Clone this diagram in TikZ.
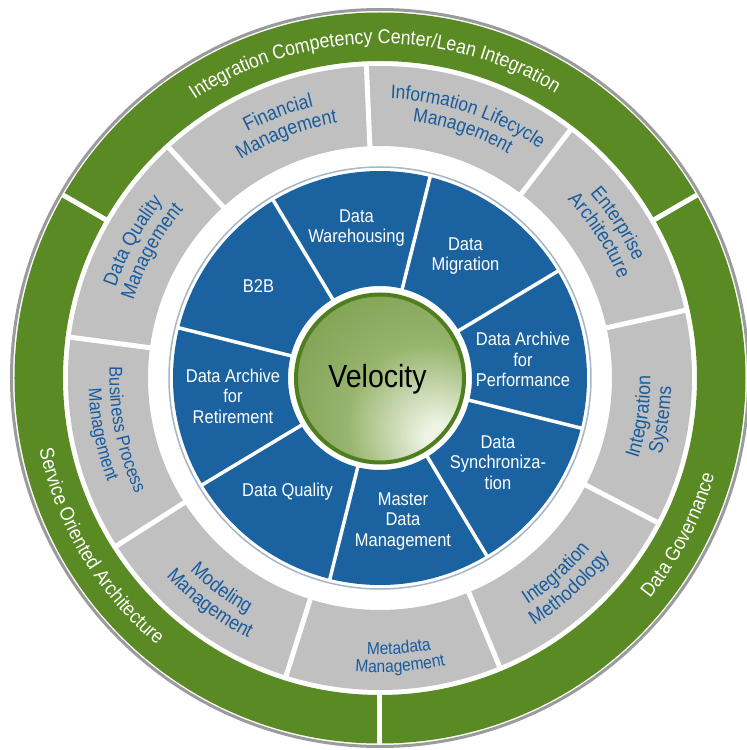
\documentclass[tikz,border=0pt]{standalone}
\usepackage{fontspec}
\setmainfont{Liberation Sans}
\newfontfamily\cfont{Liberation Sans}[FakeStretch=0.89]
\usetikzlibrary{decorations.text}
\definecolor{segblue}{RGB}{27,99,160}
\definecolor{seggray}{RGB}{192,192,192}
\definecolor{seggreen}{RGB}{90,138,35}
\definecolor{gtxt}{RGB}{24,92,158}
\definecolor{bline}{RGB}{165,182,200}
\definecolor{oline}{RGB}{155,155,155}
\definecolor{ballborder}{RGB}{78,126,30}
\definecolor{vhl}{RGB}{238,243,228}
\definecolor{vmid}{RGB}{150,180,108}
\definecolor{vout}{RGB}{118,152,72}
\pgfdeclareradialshading{velball}{\pgfpoint{18bp}{-18bp}}{color(0bp)=(vhl); color(4bp)=(vhl); color(24bp)=(vmid); color(52bp)=(vout); color(100bp)=(vout)}
\newcommand\bluefont{\cfont\fontsize{18.5}{20.5}\selectfont}
\newcommand\velfont{\cfont\fontsize{32}{36}\selectfont}
\newcommand\gfa{\cfont\fontsize{20}{22}\selectfont}
\newcommand\gfb{\cfont\fontsize{19.5}{22}\selectfont}
\newcommand\gfc{\cfont\fontsize{18.5}{22}\selectfont}
\newcommand\gfd{\cfont\fontsize{17.5}{20}\selectfont}
\newcommand\grf{\cfont\fontsize{20}{24}\selectfont}
% text along an arc: centre angle, radius, half span, colour, text
\newcommand\cwlabel[5]{%
  \path[decorate,decoration={text along path,text align=center,text color=#4,text={#5}}]
    (#1+#3:#2) arc[start angle={#1+#3}, end angle={#1-#3}, radius=#2];}
\newcommand\ccwlabel[5]{%
  \path[decorate,decoration={text along path,text align=center,text color=#4,text={#5}}]
    (#1-#3:#2) arc[start angle={#1-#3}, end angle={#1+#3}, radius=#2];}
\tikzset{
  bluetext/.style={text=white, font=\bluefont, align=center, inner sep=0pt},
  divider/.style={white, line width=#1},
}
\begin{document}
\begin{tikzpicture}[x=1pt,y=1pt]
\useasboundingbox (-380,-372) rectangle (367,378);
\fill[white] (-380,-372) rectangle (367,378);
% outer green ring
\fill[seggreen,even odd rule] (0,0) circle[radius=365.5] (0,0) circle[radius=317];
\foreach \a in {30,150,270} \draw[divider=5] (\a:314) -- (\a:366);
\draw[oline,line width=3] (0,0) circle[radius=368.5];
% grey ring
\fill[seggray,even odd rule] (0,0) circle[radius=312] (0,0) circle[radius=232];
\foreach \a in {12.5,52.5,92.5,132.5,172.5,212.5,252.5,292.5,332.5}
  \draw[divider=5] (\a:228) -- (\a:315);
% blue ring
\fill[segblue,even odd rule] (0,0) circle[radius=207] (0,0) circle[radius=92];
\foreach \a in {31,76,121,166,211,256,301,346}
  \draw[divider=3.5] (\a:88) -- (\a:208);
\draw[bline,line width=1.5] (0,0) circle[radius=211];
% centre ball
\shade[shading=velball] (0,-0.5) circle[radius=85];
\draw[ballborder,line width=4] (0,-0.5) circle[radius=84];
\node[font=\velfont, anchor=base, text=black, inner sep=0pt] (vel) at (-2.5,-9) {Velocity};
% blue segment labels
\node[bluetext] (dw)  at (-23.5,150)   {Data\\Warehousing};
\node[bluetext] (dm)  at (85.5,122)    {Data\\Migration};
\node[bluetext] (b2b) at (-121.5,91.5) {B2B};
\node[bluetext] (dap) at (143,18.5)    {Data Archive\\for\\Performance};
\node[bluetext] (ds)  at (118,-84.5)   {Data\\Synchroniza-\\tion};
\node[bluetext] (mdm) at (23,-143.5)   {Master\\Data\\Management};
\node[bluetext] (dq)  at (-92.5,-113.5){Data Quality};
\node[bluetext] (dar) at (-147,-18)    {Data Archive\\for\\Retirement};
% grey segment labels
\cwlabel{111}{279.5}{19}{gtxt}{|\gfa|Financial}
\cwlabel{111}{258.5}{19}{gtxt}{|\gfa|Management}
\cwlabel{71.5}{279.5}{19}{gtxt}{|\gfb|Information Lifecycle}
\cwlabel{71.5}{258.5}{19}{gtxt}{|\gfb|Management}
\cwlabel{33}{279.5}{19}{gtxt}{|\gfa|Enterprise}
\cwlabel{33}{258.5}{19}{gtxt}{|\gfa|Architecture}
\ccwlabel{-8.5}{270.5}{19}{gtxt}{|\gfa|Integration}
\ccwlabel{-8.5}{291.5}{19}{gtxt}{|\gfa|Systems}
\ccwlabel{-48}{270.5}{19}{gtxt}{|\gfa|Integration}
\ccwlabel{-48}{291.5}{19}{gtxt}{|\gfa|Methodology}
\ccwlabel{-86}{276.5}{19}{gtxt}{|\gfd|Metadata}
\ccwlabel{-86}{294.5}{19}{gtxt}{|\gfd|Management}
\ccwlabel{-127}{270.5}{19}{gtxt}{|\gfa|Modeling}
\ccwlabel{-127}{291.5}{19}{gtxt}{|\gfa|Management}
\ccwlabel{-168.5}{270.5}{19}{gtxt}{|\gfc|Business Process}
\ccwlabel{-168.5}{291.5}{19}{gtxt}{|\gfc|Management}
\cwlabel{151}{279.5}{19}{gtxt}{|\gfa|Data Quality}
\cwlabel{151}{258.5}{19}{gtxt}{|\gfa|Management}
% green ring labels
\cwlabel{91}{334.5}{55}{white}{|\grf|Integration Competency Center/Lean Integration}
\ccwlabel{-27.7}{348.5}{25}{white}{|\grf|Data Governance}
\ccwlabel{-149}{348}{30}{white}{|\grf|Service Oriented Architecture}
\end{tikzpicture}
\end{document}
